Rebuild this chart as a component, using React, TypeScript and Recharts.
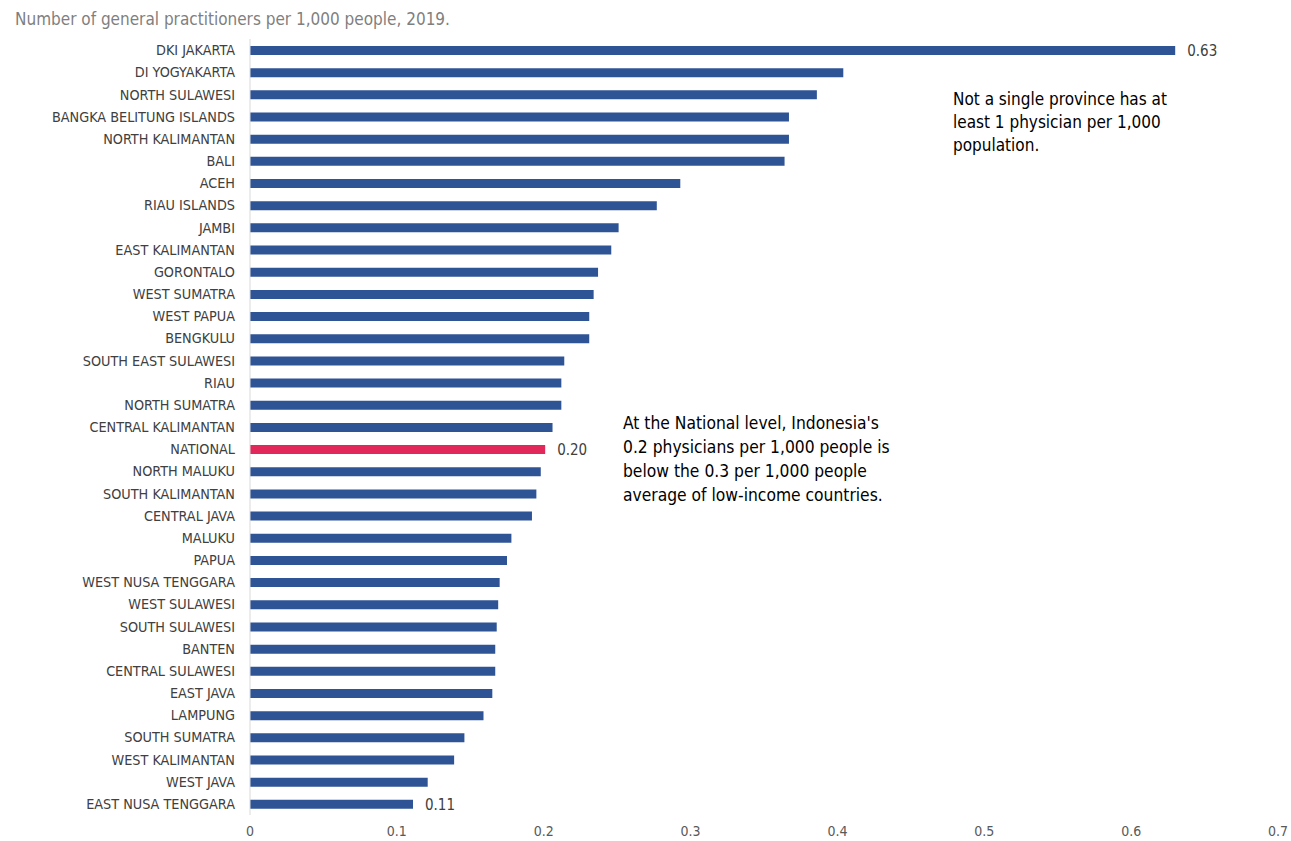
import { BarChart, Bar, XAxis, YAxis, Cell, LabelList } from "recharts";

const provinces = [
  "DKI JAKARTA", "DI YOGYAKARTA", "NORTH SULAWESI", "BANGKA BELITUNG ISLANDS", "NORTH KALIMANTAN",
  "BALI", "ACEH", "RIAU ISLANDS", "JAMBI", "EAST KALIMANTAN", "GORONTALO", "WEST SUMATRA",
  "WEST PAPUA", "BENGKULU", "SOUTH EAST SULAWESI", "RIAU", "NORTH SUMATRA", "CENTRAL KALIMANTAN",
  "NATIONAL", "NORTH MALUKU", "SOUTH KALIMANTAN", "CENTRAL JAVA", "MALUKU", "PAPUA",
  "WEST NUSA TENGGARA", "WEST SULAWESI", "SOUTH SULAWESI", "BANTEN", "CENTRAL SULAWESI",
  "EAST JAVA", "LAMPUNG", "SOUTH SUMATRA", "WEST KALIMANTAN", "WEST JAVA", "EAST NUSA TENGGARA",
];

const gpPer1000 = [
  0.63, 0.404, 0.386, 0.367, 0.367, 0.364, 0.293, 0.277, 0.251, 0.246, 0.237, 0.234,
  0.231, 0.231, 0.214, 0.212, 0.212, 0.206, 0.201, 0.198, 0.195, 0.192, 0.178, 0.175,
  0.17, 0.169, 0.168, 0.167, 0.167, 0.165, 0.159, 0.146, 0.139, 0.121, 0.111,
];

const labelled = ["DKI JAKARTA", "NATIONAL", "EAST NUSA TENGGARA"];
const xTicks = [0, 0.1, 0.2, 0.3, 0.4, 0.5, 0.6, 0.7];

const data = provinces.map((name, i) => ({ name, value: gpPer1000[i] }));

const FONT = "'Liberation Sans Narrow', 'DejaVu Sans Condensed', 'Roboto Condensed', Roboto, sans-serif";
const BLUE = "#2f5496";
const RED = "#e2285a";

function ValueLabel(props: any) {
  const { x, y, width, height, value, index } = props;
  if (!labelled.includes(provinces[index])) return null;
  return (
    <text x={x + width + 12} y={y + height / 2} dy="0.35em" fontSize={15} fill="#404040" fontFamily={FONT}>
      {Number(value).toFixed(2)}
    </text>
  );
}

export default function App() {
  return (
    <div style={{ position: "absolute", left: 0, top: 0, width: 1291, height: 841, background: "#fff", fontFamily: FONT }}>
      <div style={{ position: "absolute", left: 15, top: 9, fontSize: 17, color: "#7f7f7f" }}>
        Number of general practitioners per 1,000 people, 2019.
      </div>
      <BarChart
        width={1291}
        height={841}
        data={data}
        layout="vertical"
        margin={{ top: 39, right: 13, bottom: 0, left: 0 }}
      >
        <XAxis
          type="number"
          domain={[0, 0.7]}
          ticks={xTicks}
          tickFormatter={(v: number) => String(v)}
          axisLine={false}
          tickLine={false}
          tickSize={0}
          tickMargin={11}
          height={26}
          tick={{ fontSize: 14, fill: "#595959", fontFamily: FONT }}
          interval={0}
        />
        <YAxis
          type="category"
          dataKey="name"
          width={250}
          axisLine={{ stroke: "#d9d9d9" }}
          tickLine={false}
          tickSize={0}
          tickMargin={15}
          interval={0}
          tick={{ fontSize: 14.3, fill: "#404040", fontFamily: FONT }}
        />
        <Bar dataKey="value" barSize={9} isAnimationActive={false}>
          {data.map((d) => (
            <Cell key={d.name} fill={d.name === "NATIONAL" ? RED : BLUE} />
          ))}
          <LabelList dataKey="value" content={<ValueLabel />} />
        </Bar>
      </BarChart>
      <div style={{ position: "absolute", left: 953, top: 88, fontSize: 17, lineHeight: "23px", color: "#000" }}>
        Not a single province has at<br />least 1 physician per 1,000<br />population.
      </div>
      <div style={{ position: "absolute", left: 623, top: 411, fontSize: 17.3, lineHeight: "24px", color: "#000" }}>
        At the National level, Indonesia's<br />0.2 physicians per 1,000 people is<br />below the 0.3 per 1,000 people<br />average of low-income countries.
      </div>
    </div>
  );
}
